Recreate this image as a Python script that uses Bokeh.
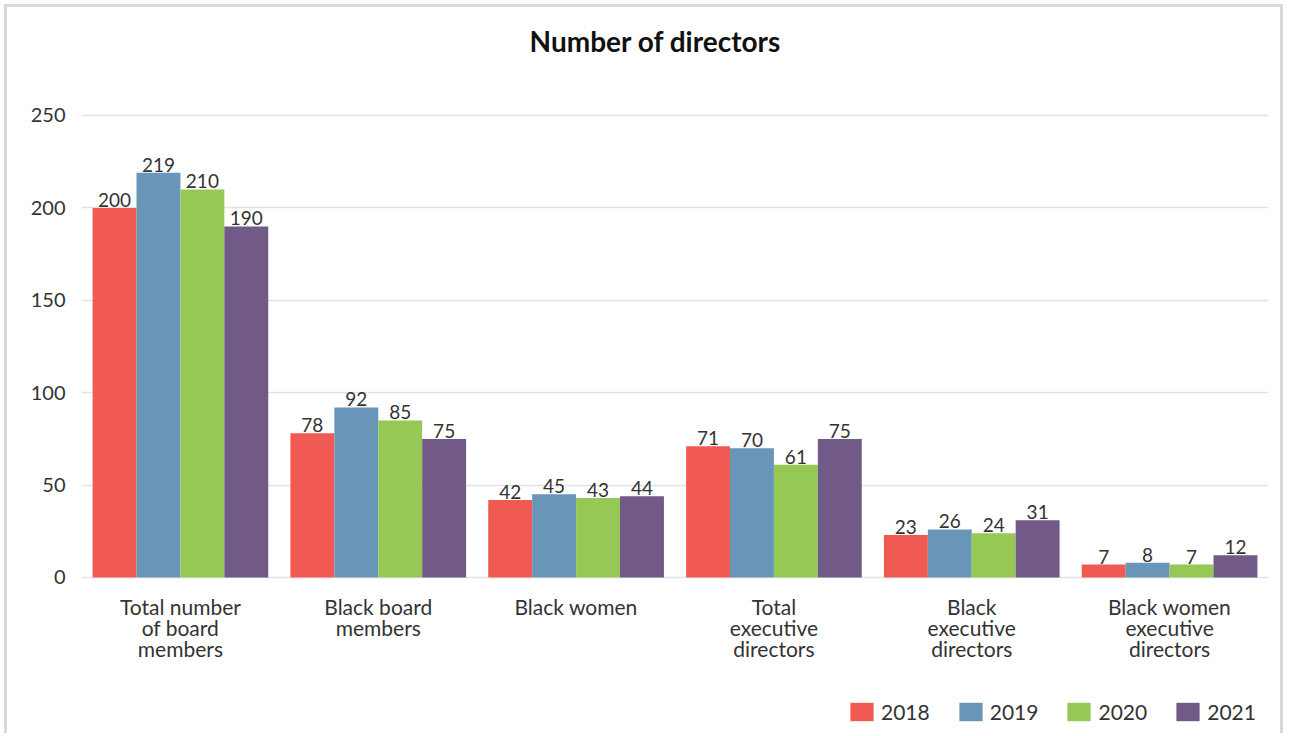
from bokeh.plotting import figure
from bokeh.models import ColumnDataSource, FactorRange, Legend, LegendItem, Label
from bokeh.transform import dodge
from bokeh.core.properties import value
from bokeh.embed import file_html
from bokeh.resources import INLINE

title_text = "Number of directors"
categories = ["Total number of board members", "Black board members", "Black women",
              "Total executive directors", "Black executive directors",
              "Black women executive directors"]
category_labels = ["Total number\nof board\nmembers", "Black board\nmembers", "Black women",
                   "Total\nexecutive\ndirectors", "Black\nexecutive\ndirectors",
                   "Black women\nexecutive\ndirectors"]
years = ["2018", "2019", "2020", "2021"]
v2018 = [200, 78, 42, 71, 23, 7]
v2019 = [219, 92, 45, 70, 26, 8]
v2020 = [210, 85, 43, 61, 24, 7]
v2021 = [190, 75, 44, 75, 31, 12]
colors = ["#F15A52", "#6996B8", "#95C854", "#715A88"]
y_ticks = [0, 50, 100, 150, 200, 250]

FONT = "Lato"
TXT = "#333333"

source = ColumnDataSource(data=dict(cat=categories, y2018=v2018, y2019=v2019,
                                    y2020=v2020, y2021=v2021))

p = figure(x_range=FactorRange(*categories), y_range=(-86.04, 308.44),
           width=1279, height=729, output_backend="svg", toolbar_location=None,
           min_border_left=74, min_border_right=18, min_border_top=0,
           min_border_bottom=0)
p.styles = {"margin-left": "4px", "margin-top": "4px",
            "border-left": "3px solid #d9d9d9", "border-top": "3px solid #d9d9d9",
            "border-right": "3px solid #d9d9d9"}
p.title = None

title = Label(x=574, y=696, x_units="screen", y_units="screen", text=title_text,
              text_align="center", text_baseline="middle", text_font=FONT,
              text_font_size="28px", text_font_style="bold", text_color="#111111")
p.add_layout(title)

bw = 0.222
offsets = [-1.5 * bw, -0.5 * bw, 0.5 * bw, 1.5 * bw]
cols = ["y2018", "y2019", "y2020", "y2021"]
renderers = []
for col, off, c in zip(cols, offsets, colors):
    r = p.vbar(x=dodge("cat", off, range=p.x_range), top=col, width=bw,
               source=source, fill_color=c, line_color=None)
    renderers.append(r)
    p.text(x=dodge("cat", off, range=p.x_range), y=col, text=col, source=source,
           text_align="center", text_baseline="bottom", y_offset=-1,
           text_font=value(FONT), text_font_size="19px", text_color=TXT)

# category labels (multi-line) drawn below the zero line
lines = [lab.split("\n") for lab in category_labels]
for i in range(3):
    xs = [c for c, ln in zip(categories, lines) if len(ln) > i]
    ts = [ln[i] for ln in lines if len(ln) > i]
    ys = [0] * len(xs)
    p.text(x=xs, y=ys, text=ts, text_align="center", text_baseline="middle",
           y_offset=29 + 21 * i, text_font=value(FONT), text_font_size="21px",
           text_color=TXT)

legend = Legend(items=[LegendItem(label=y, renderers=[r]) for y, r in zip(years, renderers)],
                orientation="horizontal", location=(766, 12),
                glyph_width=29, glyph_height=23, label_text_font=FONT,
                label_text_font_size="21px", label_text_color=TXT,
                spacing=26, label_standoff=5, border_line_color=None,
                background_fill_alpha=0, padding=0, margin=0)
p.add_layout(legend)

p.yaxis.ticker = y_ticks
p.yaxis.axis_line_color = None
p.yaxis.major_tick_line_color = None
p.yaxis.minor_tick_line_color = None
p.yaxis.major_label_text_font = FONT
p.yaxis.major_label_text_font_size = "20px"
p.yaxis.major_label_text_color = TXT
p.yaxis.major_label_standoff = 10

p.xaxis.visible = False

p.xgrid.grid_line_color = None
p.ygrid.grid_line_color = "#e3e3e3"
p.ygrid.grid_line_width = 1.5
p.ygrid.ticker = y_ticks
p.outline_line_color = None
p.x_range.range_padding = 0
p.x_range.group_padding = 0

open("out.html", "w").write(file_html(p, INLINE))
